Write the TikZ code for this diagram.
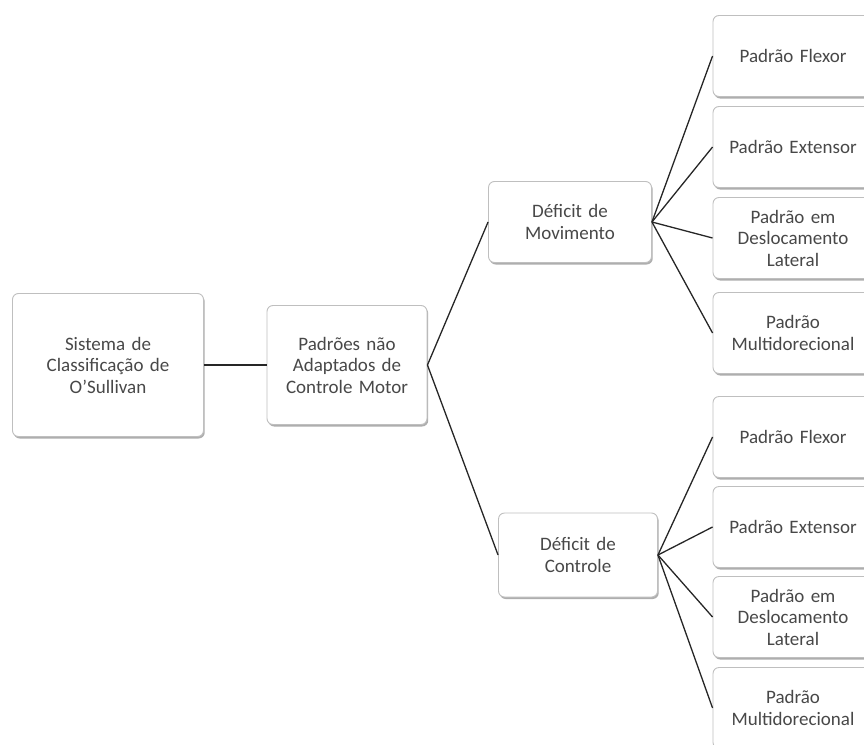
\documentclass[tikz,border=0pt]{standalone}
\usepackage{fontspec}
\setmainfont{Carlito}
\usetikzlibrary{positioning,shadows}
\definecolor{boxEdge}{RGB}{191, 191, 191}
\definecolor{lineInk}{RGB}{38, 38, 38}
\definecolor{textInk}{RGB}{72, 72, 72}

\tikzset{
  box/.style={draw=boxEdge, fill=white, rounded corners=6pt, line width=0.9pt,
    align=center, inner sep=4pt, text=textInk,
    font=\fontsize{19pt}{21.5pt}\selectfont,
    drop shadow={shadow xshift=1.2pt, shadow yshift=-2pt, fill=black!45, opacity=.7}},
  leaf/.style={box, minimum width=160pt, text width=152pt, minimum height=81pt},
  link/.style={draw=lineInk, line width=1.3pt}
}

\begin{document}
\begin{tikzpicture}[x=1pt, y=-1pt]
  \useasboundingbox (0,0) rectangle (864,744);
  \clip (0,0) rectangle (864,744);

  % tree levels
  \node[box, minimum width=191pt, text width=180pt, minimum height=143pt] (sistema) at (108,365) {Sistema de\\Classificação de\\O'Sullivan};
  \node[box, minimum width=160pt, text width=152pt, minimum height=119pt] (padroes) at (347,365) {Padrões não\\Adaptados de\\Controle Motor};
  \node[box, minimum width=163pt, text width=154pt, minimum height=81pt] (defmov) at (570,222) {Déficit de\\Movimento};
  \node[box, minimum width=159pt, text width=150pt, minimum height=84pt] (defctl) at (578,555) {Déficit de\\Controle};

  % leaves, movement
  \node[leaf] (movflex) at (793,56) {Padrão Flexor};
  \node[leaf] (movext) at (793,147) {Padrão Extensor};
  \node[leaf] (movlat) at (793,238) {Padrão em\\Deslocamento\\Lateral};
  \node[leaf] (movmulti) at (793,333) {Padrão\\Multidorecional};

  % leaves, control
  \node[leaf] (ctlflex) at (793,437) {Padrão Flexor};
  \node[leaf] (ctlext) at (793,527) {Padrão Extensor};
  \node[leaf] (ctllat) at (793,617) {Padrão em\\Deslocamento\\Lateral};
  \node[leaf] (ctlmulti) at (793,708) {Padrão\\Multidorecional};

  \draw[link] (sistema) -- (padroes);
  \draw[link] (padroes.east) -- (defmov.west);
  \draw[link] (padroes.east) -- (defctl.west);
  \foreach \n in {movflex,movext,movlat,movmulti}
    \draw[link] (defmov.east) -- (\n.west);
  \foreach \n in {ctlflex,ctlext,ctllat,ctlmulti}
    \draw[link] (defctl.east) -- (\n.west);
\end{tikzpicture}
\end{document}
